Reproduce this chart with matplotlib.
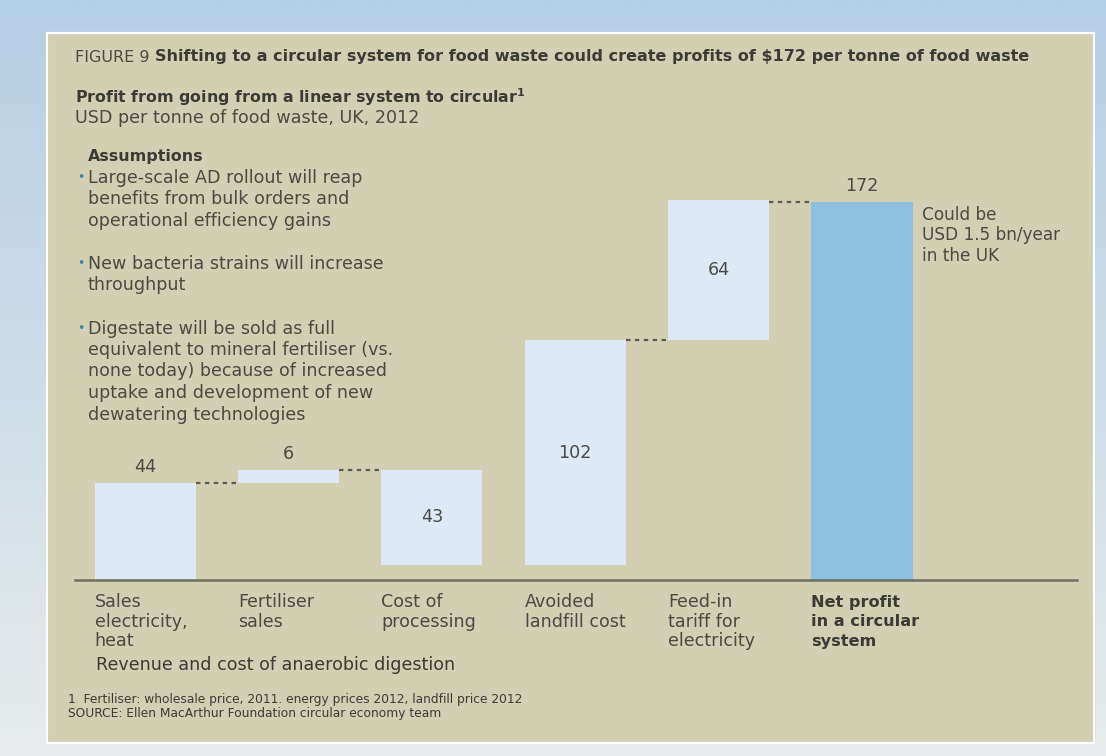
import numpy as np
import matplotlib
matplotlib.use("Agg")
import matplotlib.pyplot as plt
from matplotlib.patches import Rectangle

# ---------------- data ----------------
categories = [["Sales", "electricity,", "heat"],
              ["Fertiliser", "sales"],
              ["Cost of", "processing"],
              ["Avoided", "landfill cost"],
              ["Feed-in", "tariff for", "electricity"],
              ["Net profit", "in a circular", "system"]]
steps = [44, 6, -43, 102, 64]
total = 172
value_labels = ["44", "6", "43", "102", "64", "172"]
connect_pairs = [(0, 1), (1, 2), (3, 4), (4, 5)]

title_prefix = "FIGURE 9 "
title_bold = "Shifting to a circular system for food waste could create profits of $172 per tonne of food waste"
subtitle_bold = "Profit from going from a linear system to circular"
subtitle = "USD per tonne of food waste, UK, 2012"
assump_title = "Assumptions"
assumptions = [["Large-scale AD rollout will reap", "benefits from bulk orders and", "operational efficiency gains"],
               ["New bacteria strains will increase", "throughput"],
               ["Digestate will be sold as full", "equivalent to mineral fertiliser (vs.",
                "none today) because of increased", "uptake and development of new",
                "dewatering technologies"]]
side_note = ["Could be", "USD 1.5 bn/year", "in the UK"]
group_label = "Revenue and cost of anaerobic digestion"
footnotes = ["1  Fertiliser: wholesale price, 2011. energy prices 2012, landfill price 2012",
             "SOURCE: Ellen MacArthur Foundation circular economy team"]

# ---------------- figure ----------------
W, H = 1106, 756
fig = plt.figure(figsize=(W / 100, H / 100), dpi=100)

def fx(px):
    return px / W

def fy(py):
    return 1 - py / H

# background gradient
bg = fig.add_axes([0, 0, 1, 1])
bg.set_axis_off()
top_c = np.array([181, 207, 229]) / 255
bot_c = np.array([231, 235, 235]) / 255
t = np.linspace(0, 1, 256)[:, None]
grad = top_c[None, :] * (1 - t) + bot_c[None, :] * t
grad = grad[:, None, :].repeat(2, axis=1)
bg.imshow(grad, aspect="auto", extent=[0, 1, 0, 1], origin="upper")
bg.set_xlim(0, 1)
bg.set_ylim(0, 1)
bg.add_patch(Rectangle((fx(47), fy(743)), fx(1094) - fx(47), fy(33) - fy(743),
                       facecolor="#d3cfb3", edgecolor="white", linewidth=1.5))

TXT = "#3b3b36"
BODY = "#4a4a42"
FONT = "DejaVu Sans"
FS = 12.6

# titles
tp = fig.text(fx(75), fy(57), title_prefix, fontsize=11.5, color=BODY, family=FONT, va="center")
fig.canvas.draw()
r = fig.canvas.get_renderer()
bb = tp.get_window_extent(r)
fig.text(bb.x1 / W, fy(57), title_bold, fontsize=11.5, color=TXT, family=FONT,
         weight="bold", va="center")
fig.text(fx(75), fy(97), subtitle_bold + r"$^{\mathbf{1}}$", fontsize=11.4, color=TXT, family=FONT,
         weight="bold", va="center")
fig.text(fx(75), fy(118), subtitle, fontsize=FS, color=BODY, family=FONT, va="center")

# assumptions
fig.text(fx(88), fy(157), assump_title, fontsize=11.4, color=TXT, family=FONT,
         weight="bold", va="center")
ly = 178
for block in assumptions:
    fig.text(fx(77), fy(ly), "•", fontsize=9, color="#3f86a8", family=FONT, va="center")
    for line in block:
        fig.text(fx(88), fy(ly), line, fontsize=FS, color=BODY, family=FONT, va="center")
        ly += 21.5
    ly += 21.5

# ---------------- chart axes ----------------
base_px, top_px = 580, 180
ppu = (580 - 202) / total
ax = fig.add_axes([fx(75), fy(base_px), fx(1077) - fx(75), (base_px - top_px) / H])
ax.set_facecolor("none")
ax.set_xlim(-0.49, 6.5)
ax.set_ylim(0, (base_px - top_px) / ppu)
for s in ["top", "right", "left"]:
    ax.spines[s].set_visible(False)
ax.spines["bottom"].set_color("#6e6d62")
ax.spines["bottom"].set_linewidth(1.8)
ax.set_xticks([])
ax.set_yticks([])

bw = 0.705
bottoms, heights = [], []
level = 0
for v in steps:
    if v >= 0:
        bottoms.append(level)
        heights.append(v)
    else:
        bottoms.append(level + v)
        heights.append(-v)
    level += v
bottoms.append(0)
heights.append(total)
xs = np.arange(len(heights))
colors = ["#dde9f4"] * len(steps) + ["#8ec0e2"]
ax.bar(xs, heights, bottom=bottoms, width=bw, color=colors, linewidth=0, zorder=2)

# connectors
tops = [b + h for b, h in zip(bottoms, heights)]
for a, b in connect_pairs:
    yv = tops[a] if steps[a] >= 0 else bottoms[a]
    if b == len(heights) - 1:
        yv = total
    ax.plot([xs[a] + bw / 2, xs[b] - bw / 2], [yv, yv], color="#5c5c55",
            linestyle=(0, (2, 2)), linewidth=1.6, zorder=1)

# value labels
inside = [False, False, True, True, True, False]
for i, lab in enumerate(value_labels):
    if inside[i]:
        ax.text(xs[i], bottoms[i] + heights[i] / 2, lab, ha="center", va="center",
                fontsize=FS, color=BODY, family=FONT)
    else:
        ax.annotate(lab, (xs[i], tops[i]), xytext=(0, 5), textcoords="offset points",
                    ha="center", va="bottom", fontsize=FS, color=BODY, family=FONT)

# category labels
for i, lines in enumerate(categories):
    bold = i == len(categories) - 1
    for j, line in enumerate(lines):
        ax.annotate(line, (xs[i] - bw / 2, 0), xytext=(0, -16 - j * 14.0),
                    textcoords="offset points", ha="left", va="center",
                    fontsize=FS if not bold else 11.6, color=TXT if bold else BODY, family=FONT,
                    weight="bold" if bold else "normal", annotation_clip=False)

# side note next to net bar
for j, line in enumerate(side_note):
    ax.annotate(line, (xs[-1] + bw / 2, total), xytext=(7, -9 - j * 15.0),
                textcoords="offset points", ha="left", va="center",
                fontsize=12.2, color=BODY, family=FONT)

fig.text(fx(96), fy(665), group_label, fontsize=FS, color=TXT, family=FONT, va="center")
fig.text(fx(68), fy(700), footnotes[0], fontsize=8.8, color=TXT, family=FONT, va="center")
fig.text(fx(68), fy(714), footnotes[1], fontsize=8.8, color=TXT, family=FONT, va="center")

fig.savefig("out.png", dpi=100)
